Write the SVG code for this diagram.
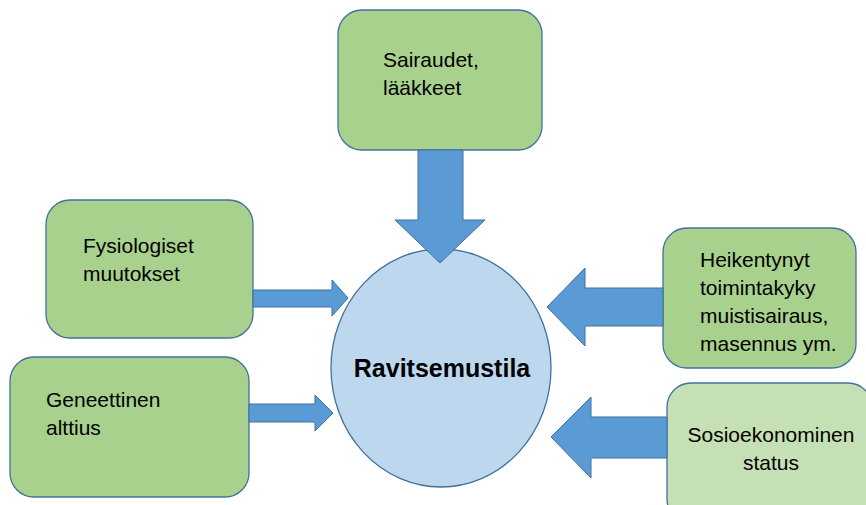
<svg xmlns="http://www.w3.org/2000/svg" width="866" height="505" viewBox="0 0 866 505">
<style>
.box{fill:#A9D18E;stroke:#41719C;stroke-width:1.3}
.box2{fill:#C5E0B4;stroke:#41719C;stroke-width:1.3}
.arr{fill:#5B9BD5;stroke:#41719C;stroke-width:1}
.t{font-family:"Liberation Sans",Arial,sans-serif;font-size:21px;fill:#000}
.c{font-family:"Liberation Sans",Arial,sans-serif;font-size:25px;font-weight:bold;fill:#000}
</style>
<rect width="866" height="505" fill="#fff"/>
<g id="n-top">
<rect class="box" x="338" y="10" width="204" height="140" rx="24"/>
<text class="t" x="383" y="67">Sairaudet,</text>
<text class="t" x="383" y="95">lääkkeet</text>
</g>
<g id="n-fys">
<rect class="box" x="46" y="200" width="207" height="138" rx="24"/>
<text class="t" x="83" y="253">Fysiologiset</text>
<text class="t" x="83" y="281">muutokset</text>
</g>
<g id="n-gen">
<rect class="box" x="10" y="357" width="239" height="140" rx="24"/>
<text class="t" x="46" y="407">Geneettinen</text>
<text class="t" x="46" y="435">alttius</text>
</g>
<g id="n-hei">
<rect class="box" x="663" y="228" width="193" height="140" rx="24"/>
<text class="t" x="700" y="267">Heikentynyt</text>
<text class="t" x="700" y="295">toimintakyky</text>
<text class="t" x="700" y="323">muistisairaus,</text>
<text class="t" x="700" y="351">masennus ym.</text>
</g>
<g id="n-sos">
<rect class="box2" x="667" y="383" width="205" height="140" rx="24"/>
<text class="t" x="771" y="442" text-anchor="middle">Sosioekonominen</text>
<text class="t" x="771" y="470" text-anchor="middle">status</text>
</g>
<g id="n-center">
<ellipse cx="441" cy="368" rx="110" ry="119" fill="#BDD7EE" stroke="#41719C" stroke-width="1.3"/>
<text class="c" x="442" y="377" text-anchor="middle">Ravitsemustila</text>
</g>
<g id="connectors">
<path class="arr" d="M418,150 H463 V220 H485 L440,263 L395,220 H418 Z"/>
<path class="arr" d="M253,290 H332 V280 L348,298 L332,316 V307 H253 Z"/>
<path class="arr" d="M249,404 H315 V395 L333,413 L315,431 V422 H249 Z"/>
<path class="arr" d="M663,288 H585 V268 L547,307 L585,346 V326 H663 Z"/>
<path class="arr" d="M667,417 H591 V397 L551,437 L591,478 V458 H667 Z"/>
</g>
</svg>
